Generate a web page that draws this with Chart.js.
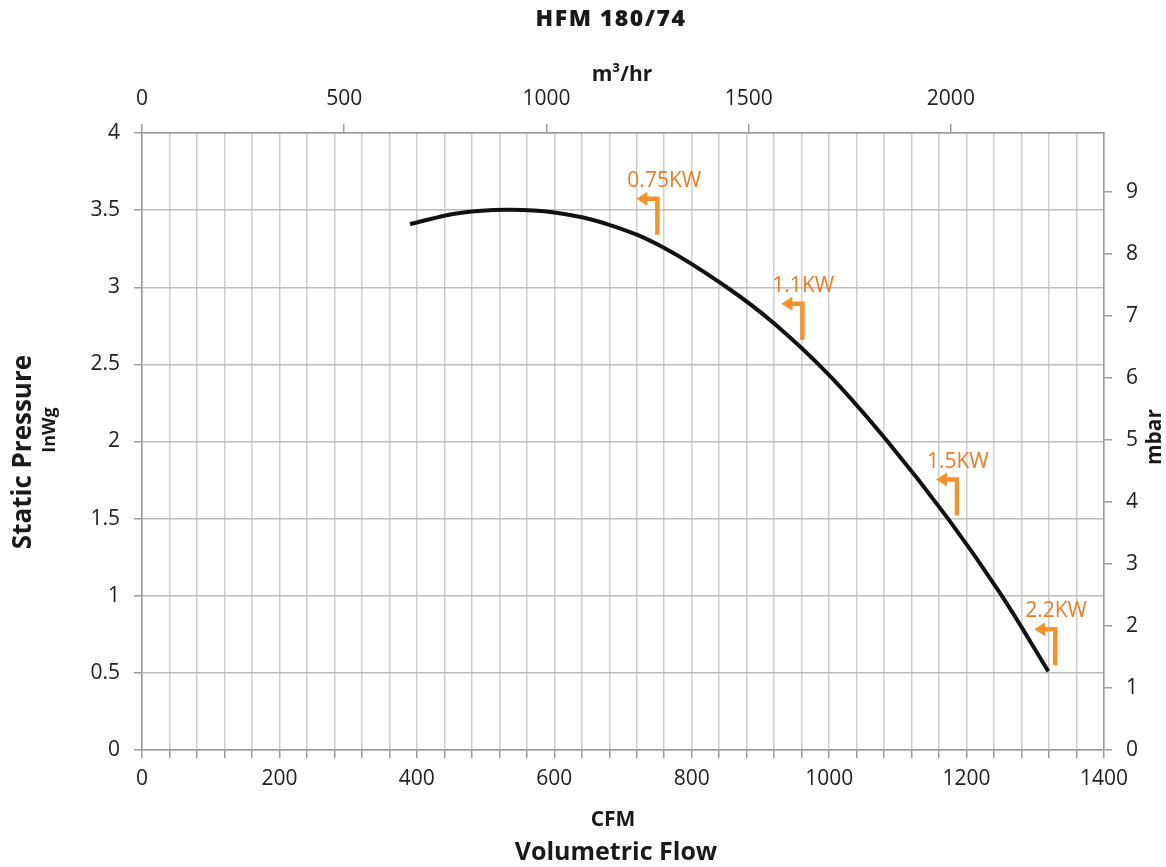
<!DOCTYPE html>
<html lang="en">

<head>
    <meta charset="UTF-8">
    <title>HFM 180/74</title>
    <script src="https://cdn.jsdelivr.net/npm/chart.js"></script>
    <style>
        body { margin: 0; background: #fff; }
        #wrap { width: 1166px; height: 867px; position: relative; }
    </style>
</head>

<body>
    <div id="wrap"><canvas id="fanChart"></canvas></div>

    <script>
        // fan curve
        const cfmFlow = [390, 460, 530, 600, 680, 760, 851, 920, 1000, 1085, 1173, 1249, 1319];
        const staticPressure = [3.41, 3.48, 3.503, 3.485, 3.405, 3.255, 3.00, 2.765, 2.43, 2.00, 1.50, 1.015, 0.51];

        // motor rating markers (flow, pressure at foot of the arrow)
        const kwLabels = ['0.75KW', '1.1KW', '1.5KW', '2.2KW'];
        const kwFlow = [750, 961, 1186, 1329];
        const kwPressure = [3.34, 2.66, 1.52, 0.55];

        // tick labels
        const cfmTickLabels = [0, 200, 400, 600, 800, 1000, 1200, 1400];
        const m3hTickLabels = [0, 500, 1000, 1500, 2000];
        const inwgTickLabels = [0, 0.5, 1, 1.5, 2, 2.5, 3, 3.5, 4];
        const mbarTickLabels = [0, 1, 2, 3, 4, 5, 6, 7, 8, 9];

        const CFM_TO_M3H = 1.69901;
        const INWG_TO_MBAR = 2.4884;

        const tickFont = { family: 'Open Sans', size: 21 };
        const tickColor = '#222';
        const vGrid = '#cdcdcd';
        const hGrid = '#bcbcbc';
        const axisGray = '#9a9a9a';

        const titlesPlugin = {
            id: 'titles',
            afterDraw(chart) {
                const c = chart.ctx;
                c.save();
                c.fillStyle = '#1a1a1a';
                c.textAlign = 'center';
                c.textBaseline = 'middle';

                c.font = '800 23px "Open Sans"';
                c.letterSpacing = '1.5px';
                c.fillText('HFM 180/74', 611, 19);
                c.letterSpacing = '0px';

                c.font = 'bold 21px "Open Sans"';
                c.fillText('m³/hr', 622, 75);
                c.fillText('CFM', 613, 820);
                c.font = 'bold 25px "Open Sans"';
                c.fillText('Volumetric Flow', 616, 853);

                c.save();
                c.translate(24, 452);
                c.rotate(-Math.PI / 2);
                c.font = 'bold 26px "Open Sans"';
                c.fillText('Static Pressure', 0, 0);
                c.restore();

                c.save();
                c.translate(50, 430);
                c.rotate(-Math.PI / 2);
                c.font = 'bold 18px "Open Sans"';
                c.fillText('InWg', 0, 0);
                c.restore();

                c.save();
                c.translate(1155, 437);
                c.rotate(-Math.PI / 2);
                c.font = 'bold 21px "Open Sans"';
                c.fillText('mbar', 0, 0);
                c.restore();

                c.restore();
            }
        };

        const kwPlugin = {
            id: 'kwMarkers',
            afterDatasetsDraw(chart) {
                const c = chart.ctx;
                const xs = chart.scales.x, ys = chart.scales.y;
                c.save();
                kwLabels.forEach((lbl, i) => {
                    const px = xs.getPixelForValue(kwFlow[i]);
                    const py = ys.getPixelForValue(kwPressure[i]);
                    const top = py - 36;
                    c.strokeStyle = '#f7922a';
                    c.fillStyle = '#f7922a';
                    c.lineWidth = 4.5;
                    c.lineCap = 'butt';
                    c.lineJoin = 'miter';
                    c.beginPath();
                    c.moveTo(px, py);
                    c.lineTo(px, top);
                    c.lineTo(px - 11, top);
                    c.stroke();
                    c.beginPath();
                    c.moveTo(px - 21, top);
                    c.lineTo(px - 10, top - 7);
                    c.lineTo(px - 10, top + 7);
                    c.closePath();
                    c.fill();

                    c.fillStyle = '#ef7b25';
                    c.font = '21px "Open Sans"';
                    c.textAlign = 'left';
                    c.textBaseline = 'middle';
                    c.fillText(lbl, px - 30, top - 18);
                });
                c.restore();
            }
        };

        new Chart(document.getElementById('fanChart'), {
            type: 'line',
            data: {
                datasets: [{
                    label: 'HFM 180/74',
                    data: cfmFlow.map((v, i) => ({ x: v, y: staticPressure[i] })),
                    borderColor: '#111',
                    borderWidth: 4,
                    pointRadius: 0,
                    tension: 0.4,
                    fill: false,
                    xAxisID: 'x',
                    yAxisID: 'y'
                }]
            },
            options: {
                responsive: true,
                maintainAspectRatio: false,
                animation: false,
                layout: { padding: 0 },
                plugins: {
                    legend: { display: false },
                    title: { display: false },
                    tooltip: { enabled: false }
                },
                scales: {
                    x: {
                        type: 'linear',
                        position: 'bottom',
                        min: 0,
                        max: 1400,
                        ticks: {
                            stepSize: 40,
                            autoSkip: false,
                            maxRotation: 0,
                            padding: 8,
                            font: tickFont,
                            color: tickColor,
                            callback: v => cfmTickLabels.includes(v) ? String(v) : ''
                        },
                        grid: { color: vGrid, lineWidth: 1.5, tickLength: 8, tickColor: axisGray },
                        border: { color: axisGray, width: 1.5 },
                        afterFit: s => { s.height = 117; }
                    },
                    x2: {
                        type: 'linear',
                        position: 'top',
                        min: 0,
                        max: 1400 * CFM_TO_M3H,
                        afterBuildTicks: s => { s.ticks = m3hTickLabels.map(v => ({ value: v })); },
                        ticks: { maxRotation: 0, padding: 12, font: tickFont, color: tickColor, callback: v => String(v) },
                        grid: { drawOnChartArea: false, tickLength: 9, tickColor: axisGray, lineWidth: 1.5 },
                        border: { color: axisGray, width: 1.5 },
                        afterFit: s => { s.height = 133; }
                    },
                    y: {
                        type: 'linear',
                        position: 'left',
                        min: 0,
                        max: 4,
                        afterBuildTicks: s => { s.ticks = inwgTickLabels.map(v => ({ value: v })); },
                        ticks: { padding: 14, font: tickFont, color: tickColor, callback: v => String(v) },
                        grid: { color: hGrid, lineWidth: 1.5, tickLength: 8, tickColor: axisGray },
                        border: { color: axisGray, width: 1.5 },
                        afterFit: s => { s.width = 142; }
                    },
                    y2: {
                        type: 'linear',
                        position: 'right',
                        min: 0,
                        max: 4 * INWG_TO_MBAR,
                        afterBuildTicks: s => { s.ticks = mbarTickLabels.map(v => ({ value: v })); },
                        ticks: { padding: 14, font: tickFont, color: tickColor, callback: v => String(v) },
                        grid: { drawOnChartArea: false, tickLength: 8, tickColor: axisGray, lineWidth: 1.5 },
                        border: { color: axisGray, width: 1.5 },
                        afterFit: s => { s.width = 62; }
                    }
                }
            },
            plugins: [titlesPlugin, kwPlugin]
        });
    </script>
</body>

</html>
